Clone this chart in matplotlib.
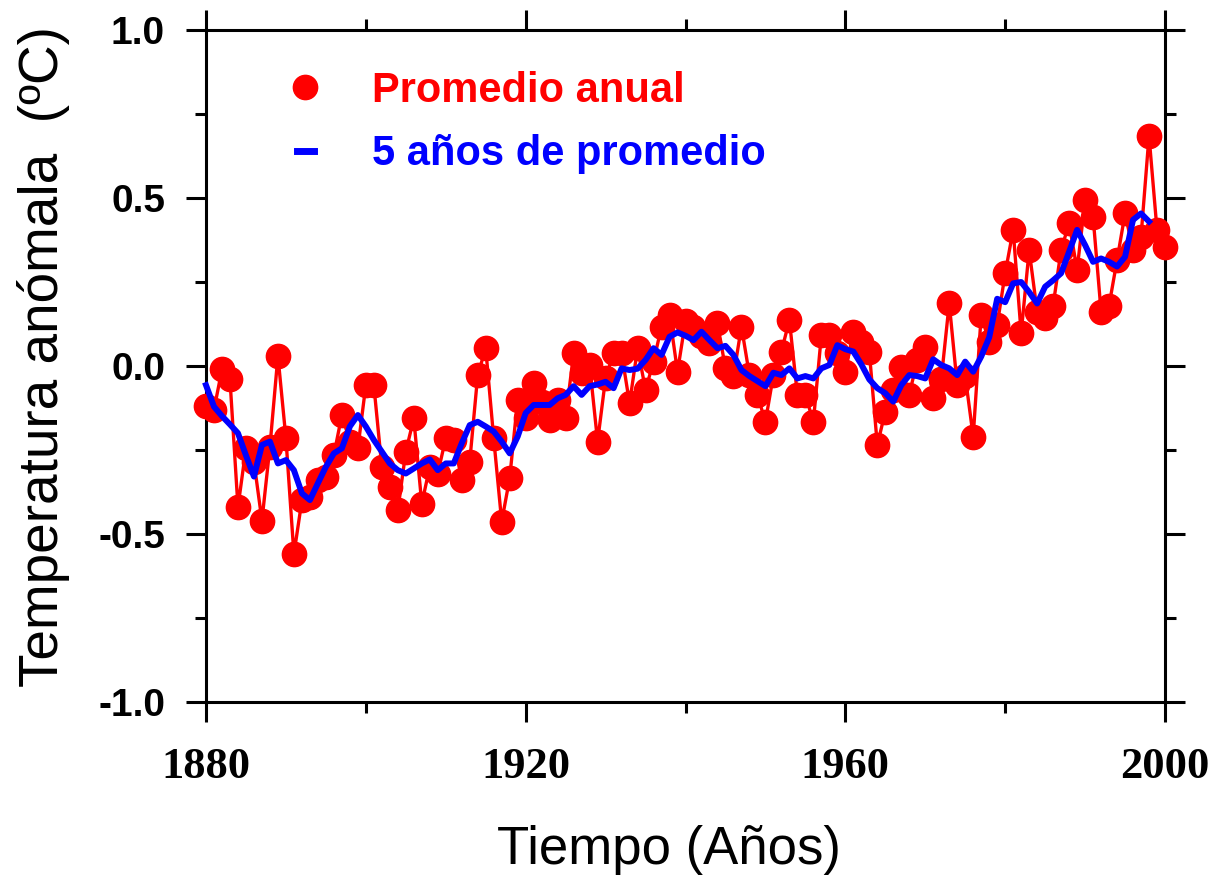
import numpy as np
import matplotlib
matplotlib.use("Agg")
import matplotlib.pyplot as plt
from matplotlib import ticker
from matplotlib.lines import Line2D

years = np.arange(1880, 2001)

annual = [
    -0.12, -0.13, -0.01, -0.04, -0.42, -0.245, -0.285, -0.46, -0.24, 0.03,
    -0.215, -0.56, -0.40, -0.39, -0.34, -0.33, -0.265, -0.146, -0.225, -0.245,
    -0.057, -0.057, -0.30, -0.36, -0.43, -0.255, -0.156, -0.41, -0.30, -0.32,
    -0.215, -0.22, -0.34, -0.285, -0.027, 0.053, -0.215, -0.463, -0.334, -0.10,
    -0.156, -0.052, -0.106, -0.16, -0.10, -0.156, 0.038, -0.022, 0.003, -0.225,
    -0.036, 0.038, 0.038, -0.111, 0.053, -0.071, 0.013, 0.117, 0.152, -0.017,
    0.135, 0.117, 0.09, 0.067, 0.127, -0.007, -0.03, 0.117, -0.027, -0.086,
    -0.166, -0.027, 0.043, 0.137, -0.086, -0.086, -0.166, 0.092, 0.092, 0.04,
    -0.017, 0.102, 0.072, 0.043, -0.235, -0.136, -0.07, -0.002, -0.086, 0.018,
    0.058, -0.096, -0.04, 0.187, -0.057, -0.03, -0.21, 0.152, 0.07, 0.122,
    0.276, 0.405, 0.097, 0.345, 0.162, 0.142, 0.18, 0.345, 0.425, 0.286,
    0.494, 0.444, 0.162, 0.18, 0.315, 0.454, 0.345, 0.385, 0.685, 0.405,
    0.355,
]

years_5 = np.arange(1880, 1999)

mean_5 = [
    -0.057, -0.121, -0.149, -0.174, -0.20, -0.266, -0.329, -0.235, -0.225, -0.29,
    -0.28, -0.31, -0.379, -0.399, -0.349, -0.30, -0.26, -0.245, -0.18, -0.146,
    -0.18, -0.22, -0.255, -0.29, -0.31, -0.32, -0.305, -0.29, -0.278, -0.31,
    -0.29, -0.29, -0.23, -0.176, -0.166, -0.18, -0.195, -0.225, -0.26, -0.21,
    -0.14, -0.116, -0.116, -0.116, -0.096, -0.086, -0.06, -0.086, -0.06, -0.055,
    -0.047, -0.066, -0.007, -0.012, -0.008, 0.018, 0.053, 0.033, 0.087, 0.10,
    0.09, 0.077, 0.102, 0.077, 0.053, 0.06, 0.033, -0.012, -0.03, -0.045,
    -0.06, -0.02, -0.027, -0.007, -0.037, -0.03, -0.037, -0.007, 0.003, 0.062,
    0.05, 0.043, 0.005, -0.04, -0.066, -0.081, -0.106, -0.057, -0.027, -0.03,
    -0.037, 0.02, 0.003, -0.007, -0.027, 0.013, -0.017, 0.028, 0.085, 0.20,
    0.19, 0.246, 0.25, 0.22, 0.186, 0.236, 0.255, 0.276, 0.34, 0.405,
    0.36, 0.31, 0.32, 0.31, 0.296, 0.325, 0.435, 0.454, 0.43,
]

x_ticks = [1880, 1920, 1960, 2000]
y_ticks = [-1.0, -0.5, 0.0, 0.5, 1.0]

plt.rcParams["font.family"] = ["Liberation Sans", "DejaVu Sans"]

fig = plt.figure(figsize=(12.15, 8.85), dpi=100)
ax = fig.add_axes([206 / 1215, 1 - 702 / 885, 959 / 1215, 672 / 885])

ax.plot(years, annual, color="red", lw=2.4, marker="o", ms=17.5,
        mec="red", mfc="red", clip_on=False, zorder=3)
ax.plot(years_5, mean_5, color="blue", lw=4.3, clip_on=False, zorder=4)

ax.set_xlim(1880, 2000)
ax.set_ylim(-1.0, 1.0)

ax.xaxis.set_major_locator(ticker.FixedLocator(x_ticks))
ax.xaxis.set_minor_locator(ticker.MultipleLocator(20))
ax.yaxis.set_major_locator(ticker.FixedLocator(y_ticks))
ax.yaxis.set_minor_locator(ticker.MultipleLocator(0.25))
ax.yaxis.set_major_formatter(ticker.FuncFormatter(lambda v, p: "%.1f" % v))

for s in ax.spines.values():
    s.set_linewidth(2.2)

ax.tick_params(which="both", direction="out", width=2.2,
               top=True, right=True)
ax.tick_params(which="major", length=14.5)
ax.tick_params(which="minor", length=8)
ax.tick_params(axis="y", which="major", pad=15, labelsize=28)
ax.tick_params(axis="x", which="major", pad=18, labelsize=32)

for lab in ax.get_yticklabels():
    lab.set_fontweight("bold")
for lab in ax.get_xticklabels():
    lab.set_fontweight("bold")
    lab.set_fontfamily("Liberation Serif")

ax.set_xlabel("Tiempo (Años)", fontsize=38)
ax.set_ylabel("Temperatura anómala  (ºC)", fontsize=39.5)
ax.xaxis.set_label_coords(0.483, -0.183)
ax.yaxis.set_label_coords(-0.142, 0.514)

handles = [
    Line2D([], [], ls="none", marker="o", ms=17.5, color="red"),
    Line2D([], [], color="blue", lw=5),
]
leg = ax.legend(handles, ["Promedio anual", "5 años de promedio"],
                loc="upper left", bbox_to_anchor=(0.095, 0.939),
                frameon=False, handlelength=0.4, handletextpad=1.4,
                labelspacing=0.56, borderaxespad=0, borderpad=0,
                prop={"size": 30, "weight": "bold"})
for t, c in zip(leg.get_texts(), ["red", "blue"]):
    t.set_color(c)

fig.savefig("out.png", dpi=100)
